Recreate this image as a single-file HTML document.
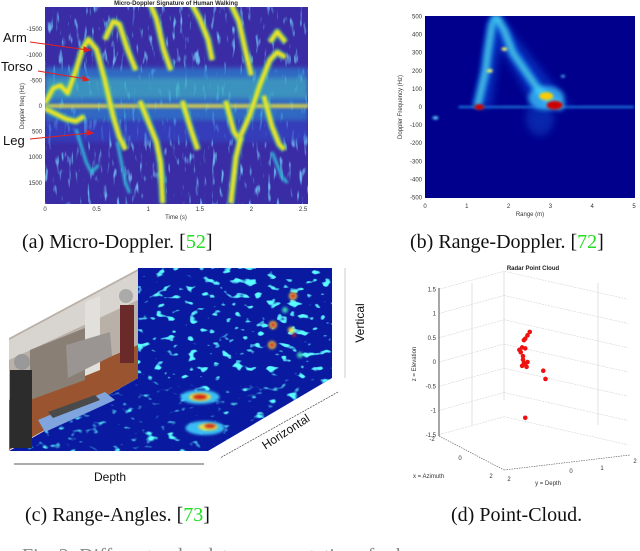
<!DOCTYPE html>
<html><head><meta charset="utf-8"><style>
html,body{margin:0;padding:0;background:#fff;width:640px;height:551px;overflow:hidden}
svg{display:block}
text{font-family:"Liberation Sans",sans-serif}
.cap{font-family:"Liberation Serif",serif;font-size:20px;fill:#111}
.tk{font-size:6px;fill:#333}
</style></head><body>
<svg id="fig" width="640" height="551" viewBox="0 0 640 551" xmlns="http://www.w3.org/2000/svg">
<defs>
<filter id="b1" filterUnits="userSpaceOnUse" x="0" y="0" width="640" height="551"><feGaussianBlur stdDeviation="1.2"/></filter>
<filter id="b2" filterUnits="userSpaceOnUse" x="0" y="0" width="640" height="551"><feGaussianBlur stdDeviation="2.5"/></filter>
<filter id="b3" filterUnits="userSpaceOnUse" x="0" y="0" width="640" height="551"><feGaussianBlur stdDeviation="4"/></filter>
<filter id="noiseA" filterUnits="userSpaceOnUse" x="45" y="7" width="263" height="197">
 <feTurbulence type="fractalNoise" baseFrequency="0.25 0.06" numOctaves="2" seed="3"/>
 <feColorMatrix values="0 0 0 0 0.15  0 0 0 0 0.45  0 0 0 0 0.85  5 0 0 0 -3.0"/>
</filter>
<filter id="noiseC" filterUnits="userSpaceOnUse" x="0" y="260" width="340" height="200">
 <feTurbulence type="fractalNoise" baseFrequency="0.09 0.14" numOctaves="2" seed="7"/>
 <feColorMatrix values="0 0 0 0 0.1  2 0 0 0 -0.5  0 0 0 0 1  6 0 0 0 -3.7"/>
</filter>
<clipPath id="clipA"><rect x="45" y="7" width="263" height="197"/></clipPath>
<clipPath id="clipB"><rect x="425" y="16" width="210" height="182"/></clipPath>
<clipPath id="clipWall"><rect x="138" y="268" width="194" height="110"/></clipPath>
<clipPath id="clipFloor"><polygon points="138,378 332,378 208,451 9,451"/></clipPath>
</defs>

<!-- Panel A -->
<g>
<text x="176" y="5" font-size="6" font-weight="bold" text-anchor="middle" fill="#222">Micro-Doppler Signature of Human Walking</text>
<rect x="45" y="7" width="263" height="197" fill="#3a2ca5"/>
<g id="gA" clip-path="url(#clipA)"></g>
<g id="axA"></g>
<text x="3" y="42" font-size="13" fill="#111">Arm</text>
<text x="1" y="71" font-size="13" fill="#111">Torso</text>
<text x="3" y="145" font-size="13" fill="#111">Leg</text>
<g stroke="#e02020" stroke-width="1" fill="#e02020">
<line x1="30" y1="42" x2="88" y2="50"/><polygon points="90,50 84,47 84,52"/>
<line x1="38" y1="71" x2="86" y2="79"/><polygon points="89,80 83,76 83,81"/>
<line x1="30" y1="139" x2="90" y2="133"/><polygon points="93,133 87,130 87,135"/>
</g>
<text x="176" y="219" font-size="6" text-anchor="middle" fill="#333">Time (s)</text>
<text x="24" y="106" font-size="6" text-anchor="middle" fill="#333" transform="rotate(-90 24 106)">Doppler freq (Hz)</text>
<text class="cap" x="22" y="248">(a) Micro-Doppler. [<tspan fill="#22dd22">52</tspan>]</text>
</g>

<!-- Panel B -->
<g>
<rect x="425" y="16" width="210" height="182" fill="#00008c"/>
<g id="gB" clip-path="url(#clipB)"></g>
<g id="axB"></g>
<text x="530" y="216" font-size="6" text-anchor="middle" fill="#333">Range (m)</text>
<text x="402" y="107" font-size="6" text-anchor="middle" fill="#333" transform="rotate(-90 402 107)">Doppler Frequency (Hz)</text>
<text class="cap" x="410" y="248">(b) Range-Doppler. [<tspan fill="#22dd22">72</tspan>]</text>
</g>

<!-- Panel C -->
<g>
<rect x="138" y="268" width="194" height="110" fill="#0a1aa0"/>
<g clip-path="url(#clipWall)"><rect x="138" y="268" width="194" height="110" filter="url(#noiseC)"/><rect x="250" y="268" width="70" height="110" filter="url(#noiseC)"/><rect x="255" y="268" width="60" height="110" filter="url(#noiseC)"/></g>
<g id="gWall" clip-path="url(#clipWall)"></g>
<polygon points="138,378 332,378 208,451 9,451" fill="#0a1aa0"/>
<g clip-path="url(#clipFloor)"><rect x="0" y="378" width="340" height="75" filter="url(#noiseC)"/></g>
<g id="gFloor" clip-path="url(#clipFloor)"></g>
<g>
<polygon points="9,338 138,269 138,378 9,450" fill="#b9b0a8"/>
<polygon points="9,340 138,271 138,300 9,360" fill="#d8d4cf"/>
<polygon points="9,400 138,345 138,378 9,450" fill="#9a5530"/>
<polygon points="85,302 100,296 100,370 85,376" fill="#e2e0dd"/>
<polygon points="30,350 85,328 85,380 30,400" fill="#8a7f74"/>
<polygon points="66,345 110,332 112,356 68,378" fill="#9a9592"/>
<polygon points="38,420 105,392 115,400 45,432" fill="#7fa4de"/>
<polygon points="48,412 95,395 100,400 53,418" fill="#4a4a4a"/>
<rect x="10" y="370" width="22" height="78" fill="#2c2c2c"/>
<circle cx="22" cy="362" r="8" fill="#999"/>
<rect x="120" y="305" width="14" height="58" fill="#6b2a2a"/>
<circle cx="126" cy="296" r="7" fill="#aaa"/>
</g>
<line x1="345" y1="268" x2="345" y2="378" stroke="#999" stroke-width="0.5"/>
<line x1="338" y1="392" x2="220" y2="458" stroke="#444" stroke-width="0.7" stroke-dasharray="2,1"/>
<line x1="14" y1="464" x2="204" y2="464" stroke="#222" stroke-width="0.8"/>
<text x="110" y="481" font-family="Liberation Serif,serif" font-size="12" text-anchor="middle" fill="#111">Depth</text>
<text x="288" y="435" font-family="Liberation Serif,serif" font-size="12" text-anchor="middle" fill="#111" transform="rotate(-33 288 435)">Horizontal</text>
<text x="364" y="323" font-family="Liberation Serif,serif" font-size="12" text-anchor="middle" fill="#111" transform="rotate(-90 364 323)">Vertical</text>
<text class="cap" x="25" y="521">(c) Range-Angles. [<tspan fill="#22dd22">73</tspan>]</text>
</g>

<!-- Panel D -->
<g>
<text x="533" y="270" font-size="6" font-weight="bold" text-anchor="middle" fill="#222">Radar Point Cloud</text>
<g id="gD"></g>
<text x="413" y="478" font-size="6" fill="#333">x = Azimuth</text>
<text x="548" y="485" font-size="6" text-anchor="middle" fill="#333">y = Depth</text>
<text x="416" y="364" font-size="6" text-anchor="middle" fill="#333" transform="rotate(-90 416 364)">z = Elevation</text>
<text class="cap" x="451" y="521">(d) Point-Cloud.</text>
</g>

<text class="cap" x="22" y="562" style="fill:#888">Fig. 3: Different radar data representations for human</text>
</svg>
<script>
// ---- Panel A data ----
const aXTicks = [0, 0.5, 1, 1.5, 2, 2.5];
const aYTicks = [-1500, -1000, -500, 0, 500, 1000, 1500];
const aCurves = [
 [[0,-50],[0.08,-350],[0.15,-400],[0.22,-250],[0.3,-700],[0.36,-1100],[0.42,-1300],[0.5,-1100],[0.58,-500],[0.66,200],[0.72,600],[0.78,850]],
 [[0,50],[0.1,150],[0.2,250],[0.3,300],[0.38,200]],
 [[0.58,-1300],[0.66,-1650],[0.72,-1600],[0.8,-1100],[0.88,-700]],
 [[1.02,-2000],[1.08,-1700],[1.15,-1100],[1.22,-700]],
 [[0.92,-100],[1.0,300],[1.08,700],[1.12,1100],[1.14,1900]],
 [[1.42,-2000],[1.5,-1700],[1.58,-1300],[1.62,-900]],
 [[1.33,-100],[1.42,500],[1.48,850]],
 [[1.8,-2000],[1.88,-1650],[1.94,-1100],[2.0,-600]],
 [[1.75,-100],[1.83,500],[1.88,650],[1.98,200],[2.08,-400],[2.18,-900],[2.25,-1050],[2.33,-950]],
 [[2.18,-1250],[2.25,-1450],[2.33,-1250]],
 [[2.12,-200],[2.2,400],[2.27,750],[2.32,850]],
 [[1.8,1900],[1.85,1000],[1.9,600]]
];
const aFaint = [
 [[0.3,450],[0.4,1100],[0.45,1300],[0.52,1150]],
 [[0.7,700],[0.78,1500],[0.82,1700]],
 [[1.1,1000],[1.16,1500]],
 [[2.2,900],[2.3,1400],[2.35,1500]]
];
// ---- Panel B data ----
const bXTicks = [0,1,2,3,4,5];
const bYTicks = [500,400,300,200,100,0,-100,-200,-300,-400,-500];
const bArmLeft = [[1.25,0],[1.35,100],[1.45,200],[1.5,300],[1.6,450],[1.7,500]];
const bArmRight = [[1.7,500],[1.9,420],[2.1,300],[2.4,200],[2.7,100],[3.0,30],[3.3,0]];
const bBlobs = [[1.3,0,'#cc0000',5],[3.1,10,'#cc0000',8],[2.9,60,'#ffcc00',7],[1.55,200,'#ffff66',3],[1.9,320,'#ffff66',3],[0.25,-60,'#66ddff',3],[3.3,170,'#66ddff',2]];
// ---- Panel D data ----
const dZTicks = [1.5,1,0.5,0,-0.5,-1,-1.5];
const dPoints = [[0.5,0.55],[0.55,0.62],[0.45,0.48],[0.42,0.45],[0.38,0.3],[0.32,0.25],[0.45,0.28],[0.4,0.05],[0.42,-0.02],[0.45,-0.05],[0.5,0.0],[0.38,-0.08],[0.48,-0.1],[0.85,-0.18],[0.9,-0.35],[0.45,-1.15],[0.4,0.12],[0.35,0.2]];

const NS='http://www.w3.org/2000/svg';
function mk(tag, attrs, parent){const e=document.createElementNS(NS,tag);for(const k in attrs)e.setAttribute(k,attrs[k]);parent.appendChild(e);return e;}

// Panel A
const ax=t=>45+t*103.2, ay=f=>106+f*0.0512;
const gA=document.getElementById('gA'), axA=document.getElementById('axA');
mk('rect',{x:45,y:ay(-1900),width:263,height:ay(1900)-ay(-1900),filter:'url(#noiseA)'},gA);
const band=mk('rect',{x:45,y:ay(-750),width:263,height:ay(300)-ay(-750),fill:'#2a90d8',opacity:0.6,filter:'url(#b2)'},gA);


mk('rect',{x:45,y:ay(-550),width:263,height:ay(-150)-ay(-550),fill:'#4cc6b8',opacity:0.45,filter:'url(#b2)'},gA);
const lowBand=mk('rect',{x:45,y:ay(300),width:263,height:ay(700)-ay(300),fill:'#3348c8',opacity:0.6,filter:'url(#b2)'},gA);
const zl=mk('line',{x1:45,y1:ay(0),x2:308,y2:ay(0),stroke:'#e8d840',"stroke-width":4,opacity:0.85,filter:'url(#b1)'},gA);


aFaint.forEach(c=>{const p=mk('polyline',{points:c.map(q=>ax(q[0])+','+ay(q[1])).join(' '),fill:'none',stroke:'#30b8d8',"stroke-width":3,filter:'url(#b1)'},gA);

});
aCurves.forEach(c=>{const pts=c.map(q=>ax(q[0])+','+ay(q[1])).join(' ');
mk('polyline',{points:pts,fill:'none',stroke:'#40c0a0',"stroke-width":7,"stroke-linejoin":'round',opacity:0.7,filter:'url(#b1)'},gA);
const p=mk('polyline',{points:pts,fill:'none',stroke:'#f5e61e',"stroke-width":4,"stroke-linejoin":'round',filter:'url(#b1)'},gA);

});
aXTicks.forEach(v=>{const t=mk('text',{x:ax(v),y:211,class:'tk',"text-anchor":'middle'},axA);t.textContent=String(v);

});
aYTicks.forEach(v=>{const t=mk('text',{x:42,y:ay(v)+2,class:'tk',"text-anchor":'end'},axA);t.textContent=String(v);

});

// Panel B
const bx=r=>425+r*41.8, by=f=>107-f*0.181;
const gB=document.getElementById('gB'), axB=document.getElementById('axB');
const hz=mk('line',{x1:bx(0.8),y1:by(0),x2:bx(5),y2:by(0),stroke:'#2aa8ff',"stroke-width":1.5,filter:'url(#b1)'},gB);


mk('ellipse',{cx:bx(2.75),cy:by(-60),rx:14,ry:18,fill:'#1040c0',opacity:0.6,filter:'url(#b3)'},gB);
mk('polygon',{points:[bx(1.2),by(0),bx(1.6),by(500),bx(1.8),by(500),bx(3.5),by(0),bx(2.6),by(0),bx(1.8),by(330),bx(1.6),by(0)].join(','),fill:'#1050e0',opacity:0.5,filter:'url(#b3)'},gB);
[bArmLeft,bArmRight].forEach(c=>{const pts=c.map(q=>bx(q[0])+','+by(q[1])).join(' ');
mk('polyline',{points:pts,fill:'none',stroke:'#20a8ff',"stroke-width":10,opacity:0.7,filter:'url(#b2)'},gB);
const p=mk('polyline',{points:pts,fill:'none',stroke:'#80ffd0',"stroke-width":3,opacity:0.7,filter:'url(#b2)'},gB);

});
mk('ellipse',{cx:bx(2.9),cy:by(50),rx:18,ry:12,fill:'#40d0ff',opacity:0.7,filter:'url(#b2)'},gB);
bBlobs.forEach(b=>{const e=mk('ellipse',{cx:bx(b[0]),cy:by(b[1]),rx:b[3],ry:b[3]*0.55,fill:b[2],filter:'url(#b1)'},gB);

});
bXTicks.forEach(v=>{const t=mk('text',{x:bx(v),y:208,class:'tk',"text-anchor":'middle'},axB);t.textContent=String(v);

});
bYTicks.forEach(v=>{const t=mk('text',{x:422,y:by(v)+2,class:'tk',"text-anchor":'end'},axB);t.textContent=String(v);

});

// Panel C heat blobs
const gW=document.getElementById('gWall'), gF=document.getElementById('gFloor');
const wallBlobs=[[293,296,'#ffe040',4],[293,296,'#cc2020',2.5],[273,325,'#ffe040',4],[273,325,'#cc2020',2.5],[291,330,'#ffe040',3],[272,345,'#ffe040',4],[272,345,'#cc2020',2.5],[294,335,'#cc2020',2],[300,355,'#40e0c0',3],[285,310,'#40e0c0',3]];
wallBlobs.forEach(b=>{const e=mk('circle',{cx:b[0],cy:b[1],r:b[3],fill:b[2],opacity:0.9,filter:'url(#b1)'},gW);

});
const floorBlobs=[[200,397,'#40d0ff',14],[200,397,'#ffdd30',8],[200,397,'#cc1010',5],[205,428,'#40d0ff',14],[208,427,'#ffdd30',7],[210,426,'#cc1010',4]];
floorBlobs.forEach(b=>{const e=mk('ellipse',{cx:b[0],cy:b[1],rx:b[3]*1.4,ry:b[3]*0.5,fill:b[2],opacity:0.9,filter:'url(#b1)'},gF);

});

// Panel D
const gD=document.getElementById('gD');
const dz=z=>362-z*48.5, dxp=(a,z)=>505+a*45;
[472,504,598].forEach(x=>mk('line',{x1:x,y1:x==504?272:283,x2:x,y2:x==504?400:425,stroke:'#ccc',"stroke-width":0.6},gD));
dZTicks.forEach(z=>{mk('line',{x1:439,y1:dz(z),x2:504,y2:dz(z)-18,stroke:'#d4d4d4',"stroke-width":0.6,"stroke-dasharray":'2,1'},gD);
mk('line',{x1:504,y1:dz(z)-18,x2:628,y2:dz(z)+10,stroke:'#d4d4d4',"stroke-width":0.6,"stroke-dasharray":'2,1'},gD);
const t=mk('text',{x:436,y:dz(z)+2,class:'tk',"text-anchor":'end'},gD);t.textContent=String(z);

});
mk('line',{x1:439,y1:288,x2:439,y2:436,stroke:'#222',"stroke-width":0.8},gD);
mk('line',{x1:439,y1:436,x2:504,y2:470,stroke:'#555',"stroke-width":0.6,"stroke-dasharray":'1.5,1'},gD);
mk('line',{x1:504,y1:470,x2:630,y2:455,stroke:'#555',"stroke-width":0.6,"stroke-dasharray":'1.5,1'},gD);
[['-2',432,441],['0',460,460],['2',491,478],['2',509,481],['0',571,473],['1',602,470],['2',635,463]].forEach(l=>{const t=mk('text',{x:l[1],y:l[2],class:'tk',"text-anchor":'middle'},gD);t.textContent=l[0];

});
dPoints.forEach(p=>{const c=mk('circle',{cx:dxp(p[0],p[1]),cy:dz(p[1]),r:2.3,fill:'#ee1111'},gD);

});
</script>
</body></html>
